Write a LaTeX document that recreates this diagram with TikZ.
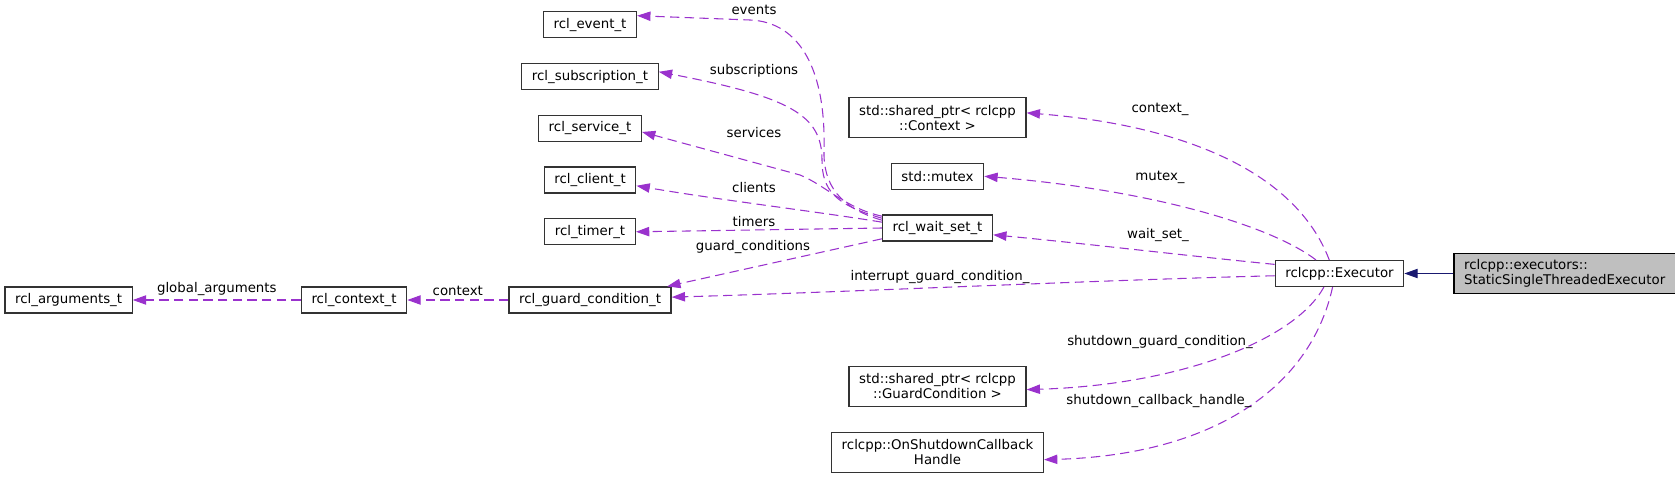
\documentclass[tikz,border=0pt]{standalone}
\usepackage{fontspec}
\setmainfont{DejaVu Sans}
\usepackage{tikz}
\usetikzlibrary{arrows.meta, positioning}
\definecolor{memberedge}{RGB}{154,50,205}
\definecolor{inheritedge}{RGB}{25,25,112}

\begin{document}
\begin{tikzpicture}[
    x=0.75pt, y=-0.75pt,
    node distance=18.4pt and 36pt,
    cls/.style={rectangle, draw=black!80, fill=white, line width=0.9pt, minimum height=19.5pt, inner xsep=7.6pt, inner ysep=1pt, font=\fontsize{10}{11.25}\selectfont, align=center},
    clstwo/.style={cls, minimum height=30pt},
    thisclass/.style={cls, draw=black, fill=black!25, minimum height=30pt, align=left},
    member/.style={-{Triangle[length=10pt, width=7pt]}, draw=memberedge, line width=0.8pt, dash pattern=on 7pt off 4pt},
    inherits/.style={-{Triangle[length=10pt, width=7pt]}, draw=inheritedge, line width=0.8pt},
    lbl/.style={font=\fontsize{10}{12}\selectfont, inner sep=0pt, text=black},
]
\useasboundingbox (0,0) rectangle (1675,478);

% === rcl types ===
\node[cls] (guard) at (590,300) {rcl\_guard\_condition\_t};
\node[cls, left=75.75pt of guard] (ctxt) {rcl\_context\_t};
\node[cls, left=126pt of ctxt] (args) {rcl\_arguments\_t};
\node[cls, above=30.75pt of guard] (timer) {rcl\_timer\_t};
\node[cls, above=of timer] (client) {rcl\_client\_t};
\node[cls, above=of client] (service) {rcl\_service\_t};
\node[cls, above=of service] (subscr) {rcl\_subscription\_t};
\node[cls, above=of subscr] (event) {rcl\_event\_t};

% === members of the executor ===
\node[cls] (waitset) at (937.5,228) {rcl\_wait\_set\_t};
\node[cls, above=of waitset] (mutex) {std::mutex};
\node[clstwo, above=of mutex] (ctxptr) {std::shared\_ptr< rclcpp\\::Context >};
\node[clstwo] (gcptr) at (937.5,386.5) {std::shared\_ptr< rclcpp\\::GuardCondition >};
\node[clstwo, below=of gcptr] (cbhandle) {rclcpp::OnShutdownCallback\\Handle};

% === executor classes ===
\node[cls] (executor) at (1339.5,273.5) {rclcpp::Executor};
\node[thisclass, right=36.75pt of executor] (static) {rclcpp::executors::\\StaticSingleThreadedExecutor};

% === wait set fan ===
\draw[member] (waitset.172) .. controls (840,208) and (823,185) .. (824,150)
    .. controls (826,70) and (800,22) .. (750,20) -- (event.11)
    node[lbl] at (754,10) {events};
\draw[member] (waitset.170) .. controls (835,205) and (822,190) .. (822,160)
    .. controls (822,115) and (790,97) .. (subscr.4)
    node[lbl] at (754,71) {subscriptions};
\draw[member] (waitset.168) .. controls (845,208) and (825,185) .. (800,175) -- (service.-4)
    node[lbl] at (754,133) {services};
\draw[member] (waitset.174) .. controls (820,212) and (720,200) .. (client.-7)
    node[lbl] at (754,188) {clients};
\draw[member] (waitset.west) -- (timer.east)
    node[lbl] at (754,222) {timers};
\draw[member] (waitset.191) -- (guard.10)
    node[lbl] at (753,247) {guard\_conditions};

% === rcl chain ===
\draw[member] (guard) -- node[lbl, above=2.5pt] {context} (ctxt);
\draw[member] (ctxt) -- node[lbl, above=2.5pt] {global\_arguments} (args);

% === executor members ===
\draw[member] (executor.127) .. controls (1295,170) and (1180,125) .. (ctxptr.3)
    node[lbl] at (1160,109) {context\_};
\draw[member] (executor.150) .. controls (1270,225) and (1150,190) .. (mutex.east)
    node[lbl] at (1160,177) {mutex\_};
\draw[member] (executor.172) .. controls (1180,255) and (1080,243) .. (waitset.-7)
    node[lbl] at (1158,235) {wait\_set\_};
\draw[member] (executor.182) .. controls (1100,280) and (850,292) .. (guard.2)
    node[lbl] at (940,277) {interrupt\_guard\_condition\_};
\draw[member] (executor.221) .. controls (1295,340) and (1180,385) .. (gcptr.-2)
    node[lbl] at (1160,342) {shutdown\_guard\_condition\_};
\draw[member] (executor.243) .. controls (1310,390) and (1210,455) .. (cbhandle.-4)
    node[lbl] at (1159,401) {shutdown\_callback\_handle\_};

% === inheritance ===
\draw[inherits] (static) -- (executor);

\end{tikzpicture}
\end{document}
